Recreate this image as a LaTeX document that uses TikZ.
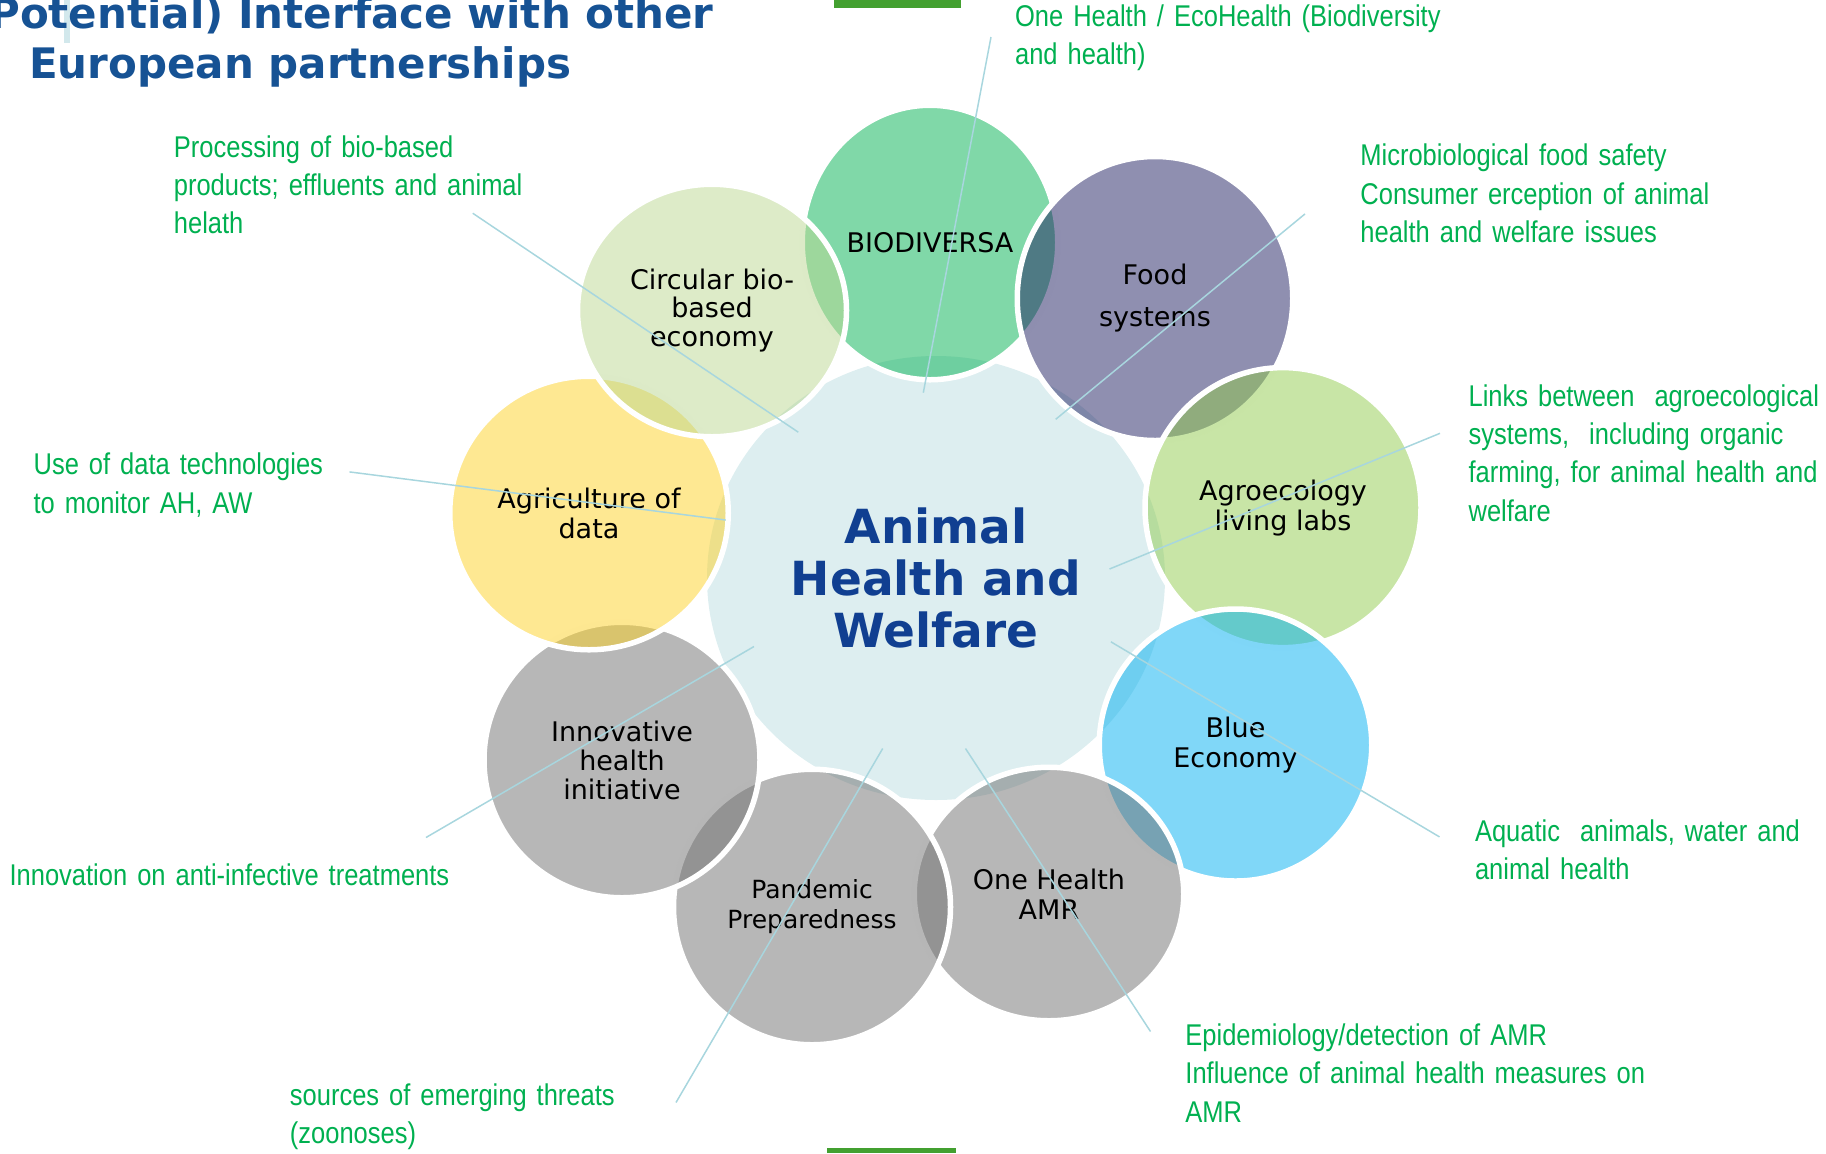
\documentclass[tikz,border=0pt]{standalone}
\usepackage{fontspec}
\setmainfont{DejaVu Sans}
\newfontfamily\notefont[FakeStretch=0.85,WordSpace=0.9]{Liberation Sans}
\usetikzlibrary{shapes.geometric}
\definecolor{cbio}{RGB}{1,177,81}
\definecolor{cfood}{RGB}{31,31,97}
\definecolor{cagro}{RGB}{145,203,77}
\definecolor{cblue}{RGB}{1,175,241}
\definecolor{cgray}{RGB}{111,111,111}
\definecolor{cagri}{RGB}{253,209,37}
\definecolor{ccirc}{RGB}{187,215,145}
\definecolor{ccenter}{RGB}{221,238,240}
\definecolor{ctitle}{RGB}{22,82,148}
\definecolor{chub}{RGB}{16,63,145}
\definecolor{cnote}{RGB}{0,176,80}
\definecolor{cline}{RGB}{168,214,222}
\definecolor{cbar}{RGB}{67,160,48}
\definecolor{cside}{RGB}{210,232,236}
\tikzset{
  sat/.style={ellipse, inner sep=0pt, draw=white, line width=2.75pt,
    fill opacity=0.5, text opacity=1, text=black, align=center,
    font=\fontsize{13.5}{15}\selectfont},
  note/.style={font=\notefont\fontsize{15}{19.2}\selectfont, text=cnote,
    anchor=base west, inner sep=0pt, text width=300pt, align=left},
  conn/.style={draw=cline, line width=0.75pt},
  ttl/.style={font=\bfseries\fontsize{21}{25}\selectfont, text=ctitle, inner sep=0pt}
}
\begin{document}
\begin{tikzpicture}[x=0.5pt,y=-0.5pt]
\useasboundingbox (0,0) rectangle (1826,1153);
% decorations
\fill[cside] (64,0) rectangle (70,43);
\fill[cbar] (834,0) rectangle (961,8);
\fill[cbar] (827,1148) rectangle (956,1153);
% title
\node[ttl, anchor=base east] (title1) at (714,28) {(Potential) Interface with other};
\node[ttl, anchor=base west] (title2) at (28.7,78) {European partnerships};
% hub
\node[ellipse, fill=ccenter, inner sep=0pt, minimum width=229pt, minimum height=222pt,
  font=\bfseries\fontsize{23.5}{26}\selectfont, text=chub, align=center]
  (hub) at (936,578) {Animal\\Health and\\Welfare};
% satellites in drawing order
\node[sat, fill=cbio, minimum width=127.75pt, minimum height=137.25pt] (bio) at (930,242.5) {BIODIVERSA};
\node[sat, fill=cfood, minimum width=137.75pt, minimum height=142pt,
  font=\fontsize{13.5}{21}\selectfont] (food) at (1155,298.5) {Food\\systems};
\node[sat, fill=cagro, minimum width=138pt, minimum height=140pt] (agro) at (1283,507.6) {Agroecology\\living labs};
\node[sat, fill=cblue, minimum width=136.25pt, minimum height=136pt] (blue) at (1235.5,745) {Blue\\Economy};
\node[sat, fill=cgray, minimum width=134.75pt, minimum height=126.75pt] (oneh) at (1049,894) {One Health\\AMR};
\node[sat, fill=cgray, minimum width=138.5pt, minimum height=137.75pt,
  font=\fontsize{12.5}{15}\selectfont] (pand) at (812,907) {Pandemic\\Preparedness};
\node[sat, fill=cgray, minimum width=138pt, minimum height=137.75pt,
  font=\fontsize{13.5}{14.5}\selectfont] (innov) at (622,760) {Innovative\\health\\initiative};
\node[sat, fill=cagri, minimum width=139.25pt, minimum height=136.75pt] (agri) at (589,513) {Agriculture of\\data};
\node[sat, fill=ccirc, minimum width=134.5pt, minimum height=126.25pt,
  font=\fontsize{13.5}{14.3}\selectfont] (circ) at (712,310.5) {Circular bio-\\based\\economy};
% annotations
\node[note] (n1) at (173.5,157) {Processing of bio-based\\products; effluents and animal\\helath};
\node[note] (n2) at (1014.7,26.5) {One Health / EcoHealth (Biodiversity\\and health)};
\node[note] (n3) at (1360,165.7) {Microbiological food safety\\Consumer erception of animal\\health and welfare issues};
\node[note] (n4) at (1468.2,406) {Links between~ agroecological\\systems,~ including organic\\farming, for animal health and\\welfare};
\node[note] (n5) at (1474.6,841) {Aquatic~ animals, water and\\animal health};
\node[note] (n6) at (1185,1045.5) {Epidemiology/detection of AMR\\Influence of animal health measures on\\AMR};
\node[note] (n7) at (289.5,1105) {sources of emerging threats\\(zoonoses)};
\node[note] (n8) at (9.2,885) {Innovation on anti-infective treatments};
\node[note] (n9) at (33.2,474.7) {Use of data technologies\\to monitor AH, AW};
% connector ends
\coordinate (a1) at (472.7,213.2);  \coordinate (b1) at (798.3,432.2);
\coordinate (a2) at (991,37);       \coordinate (b2) at (923.3,392.7);
\coordinate (a3) at (1305,213.9);   \coordinate (b3) at (1055.7,419.3);
\coordinate (a4) at (1440,433.3);   \coordinate (b4) at (1109.5,569);
\coordinate (a5) at (1439.5,836.9); \coordinate (b5) at (1110.9,641.8);
\coordinate (a6) at (1150.5,1031.5);\coordinate (b6) at (965.5,748.5);
\coordinate (a7) at (676,1102.5);   \coordinate (b7) at (882.7,748.5);
\coordinate (a8) at (426,837.5);    \coordinate (b8) at (754,646.5);
\coordinate (a9) at (349.5,471.9);  \coordinate (b9) at (725.6,520);
\foreach \i in {1,...,9} { \draw[conn] (a\i) -- (b\i); }
\end{tikzpicture}
\end{document}
